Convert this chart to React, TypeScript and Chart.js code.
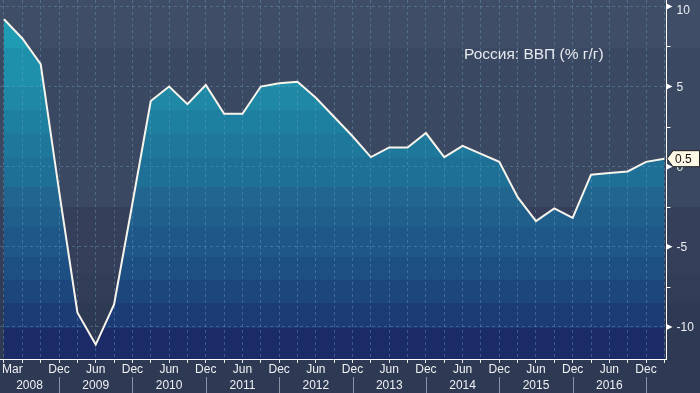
import React, { useEffect, useRef } from 'react';
import { Chart, registerables } from 'chart.js';

Chart.register(...registerables);

// ---------- DATA ----------
const quarters = [
  'Mar 2008', 'Jun 2008', 'Sep 2008', 'Dec 2008',
  'Mar 2009', 'Jun 2009', 'Sep 2009', 'Dec 2009',
  'Mar 2010', 'Jun 2010', 'Sep 2010', 'Dec 2010',
  'Mar 2011', 'Jun 2011', 'Sep 2011', 'Dec 2011',
  'Mar 2012', 'Jun 2012', 'Sep 2012', 'Dec 2012',
  'Mar 2013', 'Jun 2013', 'Sep 2013', 'Dec 2013',
  'Mar 2014', 'Jun 2014', 'Sep 2014', 'Dec 2014',
  'Mar 2015', 'Jun 2015', 'Sep 2015', 'Dec 2015',
  'Mar 2016', 'Jun 2016', 'Sep 2016', 'Dec 2016',
  'Mar 2017',
];

const gdpYoY = [
  9.2, 8.0, 6.4, -1.5,
  -9.1, -11.1, -8.6, -2.3,
  4.1, 5.0, 3.9, 5.1,
  3.3, 3.3, 5.0, 5.2,
  5.3, 4.3, 3.1, 1.9,
  0.6, 1.2, 1.2, 2.1,
  0.6, 1.3, 0.8, 0.3,
  -1.9, -3.4, -2.6, -3.2,
  -0.5, -0.4, -0.3, 0.3,
  0.5,
];

const yTickValues = [-10, -5, 0, 5, 10];
const yMinorTicks = [-7.5, -2.5, 2.5, 7.5];
const yTickLabels = ['-10', '-5', '0', '5', '10'];
const lastValueLabel = '0.5';
const seriesTitle = 'Россия: ВВП (% г/г)';

// ---------- STYLE ----------
const FONT = '"Liberation Sans", Arial, sans-serif';
const gridColor = 'rgba(110, 165, 205, 0.38)';

const bgBands: [number, number, string][] = [
  [0, 48, '#3f4d66'],
  [48, 207, '#3a4862'],
  [207, 273, '#353f5a'],
  [273, 303, '#313c56'],
  [303, 393, '#2e3953'],
];

const fillBands: [number, number, string][] = [
  [0, 48, '#1f9bb3'],
  [48, 87, '#1f90ab'],
  [87, 110, '#1e88a5'],
  [110, 133, '#1e80a0'],
  [133, 157, '#1e789b'],
  [157, 187, '#1e7096'],
  [187, 207, '#21668f'],
  [207, 227, '#205f8c'],
  [227, 257, '#1e5788'],
  [257, 280, '#1d4f83'],
  [280, 303, '#1c467c'],
  [303, 328, '#1b3c75'],
  [328, 393, '#1b2b68'],
];

function cssBands(bands: [number, number, string][]) {
  return 'linear-gradient(to bottom, ' + bands.map(([a, b, c]) => `${c} ${a}px, ${c} ${b}px`).join(', ') + ')';
}

function fillGradient(chart: any) {
  const h = chart.height || 393;
  const g = chart.ctx.createLinearGradient(0, 0, 0, h);
  for (const [a, b, c] of fillBands) {
    g.addColorStop(Math.min(1, a / h), c);
    g.addColorStop(Math.min(1, b / h), c);
  }
  return g;
}

const decorPlugin = {
  id: 'decor',
  afterDraw(chart: any) {
    const { ctx, chartArea, scales } = chart;
    const xs = scales.x;
    const ys = scales.y;
    ctx.save();

    // right axis markers
    const ax = Math.round(chartArea.right) + 0.5;
    ctx.strokeStyle = '#ffffff';
    ctx.fillStyle = '#ffffff';
    ctx.lineWidth = 1;
    for (const v of yMinorTicks) {
      const py = Math.round(ys.getPixelForValue(v)) + 0.5;
      ctx.beginPath();
      ctx.moveTo(ax, py);
      ctx.lineTo(ax + 4, py);
      ctx.stroke();
    }
    ctx.font = `12px ${FONT}`;
    ctx.textAlign = 'left';
    ctx.textBaseline = 'middle';
    yTickValues.forEach((v, k) => {
      const py = ys.getPixelForValue(v);
      ctx.fillStyle = '#ffffff';
      ctx.beginPath();
      ctx.moveTo(ax, py - 3);
      ctx.lineTo(ax + 6, py);
      ctx.lineTo(ax, py + 3);
      ctx.closePath();
      ctx.fill();
      ctx.fillStyle = '#eef0f3';
      ctx.fillText(yTickLabels[k], ax + 10, Math.max(py, 10) + 1);
    });

    // x axis labels
    const bottom = chartArea.bottom;
    ctx.font = `12px ${FONT}`;
    ctx.fillStyle = '#eef0f3';
    ctx.textBaseline = 'middle';
    const decX: number[] = [];
    quarters.forEach((q, i) => {
      const [m] = q.split(' ');
      const px = xs.getPixelForValue(i);
      if (m === 'Dec') decX.push(px);
      if (i === 0) {
        ctx.textAlign = 'left';
        ctx.fillText(m, 2, bottom + 11);
      } else if ((m === 'Jun' && i > 1) || m === 'Dec') {
        ctx.textAlign = 'center';
        ctx.fillText(m, px, bottom + 11);
      }
    });
    // year separators + labels
    ctx.strokeStyle = '#8a93a6';
    for (const px of decX) {
      const sx = Math.round(px) + 0.5;
      ctx.beginPath();
      ctx.moveTo(sx, bottom + 18);
      ctx.lineTo(sx, chart.height);
      ctx.stroke();
    }
    const years: string[] = [];
    quarters.forEach((q) => {
      const y = q.split(' ')[1];
      if (!years.includes(y)) years.push(y);
    });
    ctx.textAlign = 'center';
    years.forEach((yr, k) => {
      if (k >= decX.length) return;
      const left = k === 0 ? chartArea.left : decX[k - 1];
      const right = decX[k];
      ctx.fillText(yr, (left + right) / 2, bottom + 27);
    });

    // series title
    ctx.font = `15.5px ${FONT}`;
    ctx.fillStyle = '#e6e9ee';
    ctx.textAlign = 'left';
    ctx.fillText(seriesTitle, 464, 55);

    // last value tag
    const ly = ys.getPixelForValue(gdpYoY[gdpYoY.length - 1]);
    const lx = chartArea.right + 1;
    ctx.beginPath();
    ctx.moveTo(lx, ly);
    ctx.lineTo(lx + 6, ly - 8);
    ctx.lineTo(chart.width - 0.5, ly - 8);
    ctx.lineTo(chart.width - 0.5, ly + 8);
    ctx.lineTo(lx + 6, ly + 8);
    ctx.closePath();
    ctx.fillStyle = '#fdf7e6';
    ctx.fill();
    ctx.strokeStyle = '#222222';
    ctx.lineWidth = 1;
    ctx.stroke();
    ctx.fillStyle = '#111111';
    ctx.font = `12px ${FONT}`;
    ctx.textAlign = 'left';
    ctx.fillText(lastValueLabel, lx + 8, ly + 1);

    ctx.restore();
  },
};

export default function App() {
  const ref = useRef<HTMLCanvasElement>(null);

  useEffect(() => {
    document.body.style.margin = '0';
    const canvas = ref.current;
    if (!canvas) return;
    const chart = new Chart(canvas, {
      type: 'line',
      data: {
        datasets: [
          {
            data: gdpYoY.map((v, i) => ({ x: i, y: v })),
            borderColor: '#f7f4ec',
            borderWidth: 2,
            pointRadius: 0,
            tension: 0,
            fill: 'start',
            backgroundColor: (c: any) => fillGradient(c.chart),
          },
        ],
      },
      options: {
        responsive: false,
        animation: false,
        devicePixelRatio: 1,
        layout: { padding: 0 },
        plugins: {
          legend: { display: false },
          tooltip: { enabled: false },
          filler: { drawTime: 'beforeDraw' },
        },
        scales: {
          x: {
            type: 'linear',
            min: -0.218,
            max: 36.088,
            afterBuildTicks: (s: any) => {
              s.ticks = quarters.map((_, i) => ({ value: i }));
            },
            afterFit: (s: any) => {
              s.height = 34;
            },
            ticks: { display: false },
            grid: {
              color: gridColor,
              lineWidth: 1,
              tickLength: 4,
              tickColor: '#e8e8e8',
              tickWidth: 1,
            },
            border: { color: '#ffffff', width: 1, dash: [3, 3] },
          },
          y: {
            position: 'right',
            min: -12,
            max: 10.4,
            afterBuildTicks: (s: any) => {
              s.ticks = yTickValues.map((v) => ({ value: v }));
            },
            afterFit: (s: any) => {
              s.width = 34;
            },
            ticks: { display: false },
            grid: { color: gridColor, lineWidth: 1, drawTicks: false },
            border: { color: '#ffffff', width: 1, dash: [3, 3] },
          },
        },
      } as any,
      plugins: [decorPlugin],
    });
    return () => chart.destroy();
  }, []);

  return (
    <canvas
      ref={ref}
      width={700}
      height={393}
      style={{ display: 'block', width: 700, height: 393, background: cssBands(bgBands) }}
    />
  );
}
